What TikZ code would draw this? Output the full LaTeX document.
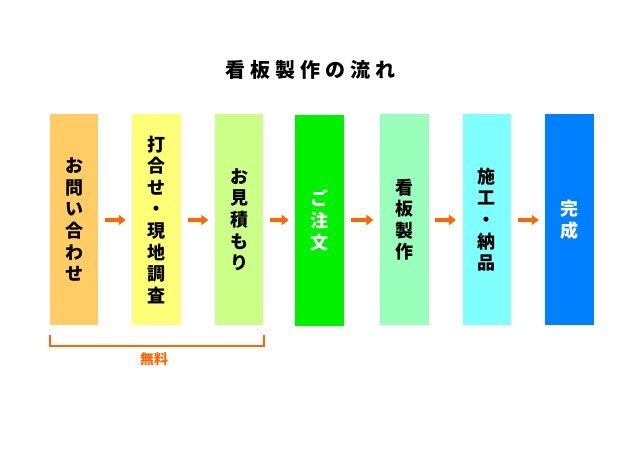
\documentclass[tikz,border=0pt]{standalone}
\usepackage{fontspec}
\setmainfont{Noto Sans CJK JP}
\usetikzlibrary{arrows.meta,calc}
\definecolor{c1}{HTML}{FFCC66}
\definecolor{c2}{HTML}{FFFF77}
\definecolor{c3}{HTML}{CCFF88}
\definecolor{c4}{HTML}{00F000}
\definecolor{c5}{HTML}{99FFBB}
\definecolor{c6}{HTML}{80FFFF}
\definecolor{c7}{HTML}{0080FF}
\definecolor{arr}{HTML}{FF6600}
\begin{document}
\begin{tikzpicture}[x=1pt,y=-1pt,
  stepbox/.style={minimum width=48.5pt,minimum height=211pt,inner sep=0pt,
    align=center,font=\bfseries\fontsize{18pt}{21.6pt}\selectfont},
  flow/.style={arr,line width=3.5pt,-{Triangle[length=7pt,width=10pt]},
    shorten <=6.5pt,shorten >=6.5pt}]
\useasboundingbox (0,0) rectangle (640,452);
\node[font=\bfseries\fontsize{20pt}{22pt}\selectfont] (title) at (310,70) {看\hspace{5pt}板\hspace{5pt}製\hspace{5pt}作\hspace{5pt}の\hspace{5pt}流\hspace{5pt}れ};
\node[stepbox,fill=c1] (b1) at (74.2,219.7) {お\\問\\い\\合\\わ\\せ};
\node[stepbox,fill=c2] (b2) at (156.7,219.7) {打\\合\\せ\\・\\現\\地\\調\\査};
\node[stepbox,fill=c3] (b3) at (239.2,219.7) {お\\見\\積\\も\\り};
\node[stepbox,fill=c4,text=white] (b4) at (319.6,220.5) {ご\\注\\文};
\node[stepbox,fill=c5] (b5) at (404.4,219.7) {看\\板\\製\\作};
\node[stepbox,fill=c6] (b6) at (486.9,219.7) {施\\工\\・\\納\\品};
\node[stepbox,fill=c7,text=white] (b7) at (569.7,219.7) {完\\成};
\foreach \a/\b in {b1/b2,b2/b3,b3/b4,b4/b5,b5/b6,b6/b7}
  \draw[flow] (\a.east |- 0,220) -- (\b.west |- 0,220);
\coordinate (bl) at (49.5,335);
\coordinate (br) at (263.5,335);
\draw[arr,line width=2pt] (bl) -- ($(bl)+(0,10.5)$) -- ($(br)+(0,10.5)$) -- (br);
\node[text=arr,font=\bfseries\fontsize{14pt}{15pt}\selectfont] (free) at (154,359) {無料};
\end{tikzpicture}
\end{document}
